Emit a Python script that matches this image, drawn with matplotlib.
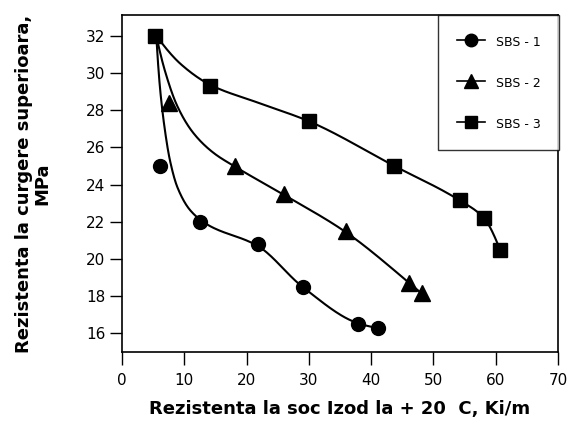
import numpy as np
import matplotlib
matplotlib.use("Agg")
import matplotlib.pyplot as plt
from matplotlib.lines import Line2D

# measured points
sbs1_x = [6.1, 12.5, 21.8, 29.0, 37.9, 41.1]
sbs1_y = [25.0, 22.0, 20.8, 18.5, 16.5, 16.3]
sbs2_x = [7.6, 18.2, 26.0, 35.9, 46.0, 48.1]
sbs2_y = [28.4, 25.0, 23.5, 21.5, 18.7, 18.15]
sbs3_x = [5.3, 14.2, 30.0, 43.7, 54.2, 58.1, 60.7]
sbs3_y = [32.0, 29.3, 27.4, 25.0, 23.15, 22.2, 20.5]

# knots of the fitted trend curves
fit1_x = [5.5, 6.1, 6.9, 7.7, 8.9, 11.0, 13.7, 21.8, 29.0, 37.9, 41.1]
fit1_y = [32.0, 29.2, 26.9, 25.3, 23.85, 22.6, 21.85, 20.7, 18.5, 16.55, 16.3]
fit2_x = [5.5, 6.9, 8.9, 11.5, 14.7, 18.2, 26.0, 35.9, 46.0, 48.1]
fit2_y = [32.0, 30.1, 28.2, 26.75, 25.7, 24.95, 23.45, 21.45, 18.75, 18.15]
fit3_x = [5.5, 9.5, 14.2, 21.8, 30.0, 43.7, 54.2, 58.1, 60.7]
fit3_y = [32.0, 30.45, 29.35, 28.4, 27.4, 25.0, 23.15, 22.2, 20.5]


def pchip(xs, ys, n=30):
    # monotone cubic (Fritsch-Carlson) curve through the knots
    x = np.asarray(xs, float)
    y = np.asarray(ys, float)
    h = np.diff(x)
    d = np.diff(y) / h
    m = np.zeros_like(x)
    for k in range(1, len(x) - 1):
        if d[k - 1] * d[k] > 0:
            w1 = 2 * h[k] + h[k - 1]
            w2 = h[k] + 2 * h[k - 1]
            m[k] = (w1 + w2) / (w1 / d[k - 1] + w2 / d[k])

    def end(h0, h1, d0, d1):
        s = ((2 * h0 + h1) * d0 - h0 * d1) / (h0 + h1)
        if np.sign(s) != np.sign(d0):
            return 0.0
        if np.sign(d0) != np.sign(d1) and abs(s) > abs(3 * d0):
            return 3 * d0
        return s

    m[0] = end(h[0], h[1], d[0], d[1])
    m[-1] = end(h[-1], h[-2], d[-1], d[-2])
    px, py = [], []
    for k in range(len(x) - 1):
        t = np.linspace(0, 1, n, endpoint=False)
        h00 = 2 * t ** 3 - 3 * t ** 2 + 1
        h10 = t ** 3 - 2 * t ** 2 + t
        h01 = -2 * t ** 3 + 3 * t ** 2
        h11 = t ** 3 - t ** 2
        px.append(x[k] + t * h[k])
        py.append(h00 * y[k] + h10 * h[k] * m[k] + h01 * y[k + 1] + h11 * h[k] * m[k + 1])
    px.append([x[-1]])
    py.append([y[-1]])
    return np.concatenate(px), np.concatenate(py)


fig = plt.figure(figsize=(5.7, 4.32), dpi=100)
ax = fig.add_axes([0.214, 0.185, 0.765, 0.78])

for fx, fy in [(fit1_x, fit1_y), (fit2_x, fit2_y), (fit3_x, fit3_y)]:
    cx, cy = pchip(fx, fy)
    ax.plot(cx, cy, color="black", lw=1.5)

ax.plot(sbs1_x, sbs1_y, "o", color="black", ms=10, ls="none")
ax.plot(sbs2_x, sbs2_y, "^", color="black", ms=11, ls="none")
ax.plot(sbs3_x, sbs3_y, "s", color="black", ms=10, ls="none")

ax.set_xlim(0, 70)
ax.set_ylim(15, 33.1)
ax.set_xticks(range(0, 71, 10))
ax.set_yticks(range(16, 33, 2))
ax.tick_params(direction="out", length=9, width=1, labelsize=11, colors="black")
ax.tick_params(axis="x", pad=6)
ax.tick_params(axis="y", pad=3)
for s in ax.spines.values():
    s.set_linewidth(1.2)

ax.set_xlabel("Rezistenta la soc Izod la + 20  C, Ki/m", fontsize=13,
              fontweight="bold", labelpad=9)
ax.set_ylabel("Rezistenta la curgere superioara,\nMPa", fontsize=13,
              fontweight="bold", labelpad=25, linespacing=1.0)

handles = [
    Line2D([], [], color="black", lw=1.2, marker="o", ms=9),
    Line2D([], [], color="black", lw=1.2, marker="^", ms=10),
    Line2D([], [], color="black", lw=1.2, marker="s", ms=9),
]
leg = ax.legend(handles, ["SBS - 1", "SBS - 2", "SBS - 3"], loc="upper right",
                bbox_to_anchor=(1.003, 1.0), fontsize=9, frameon=True,
                fancybox=False, edgecolor="black", labelspacing=2.08,
                handleheight=1.5, handlelength=2.2, handletextpad=0.9,
                borderpad=1.5, borderaxespad=0)
leg.get_frame().set_linewidth(1.0)

fig.savefig("out.png", dpi=100)
